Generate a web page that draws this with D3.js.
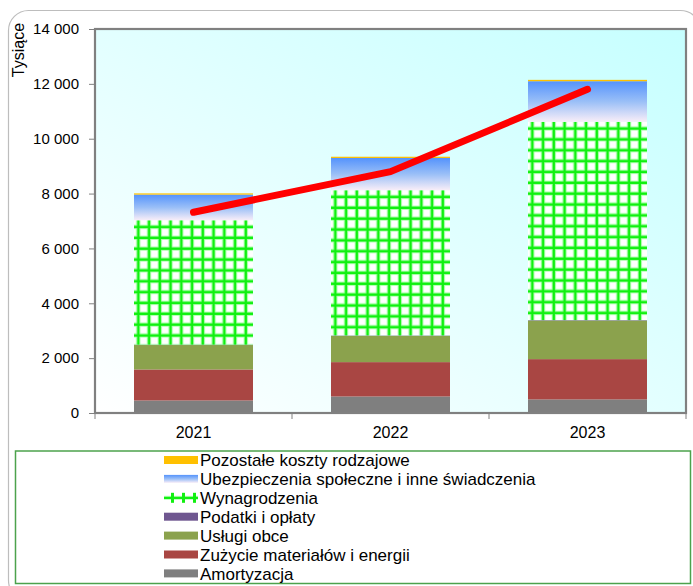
<!DOCTYPE html>
<html>
<head>
<meta charset="utf-8">
<script src="https://cdn.jsdelivr.net/npm/d3@7/dist/d3.min.js"></script>
<style>
  html, body { margin: 0; padding: 0; background: #ffffff; }
  svg { display: block; }
  text { font-family: "Liberation Sans", Arial, sans-serif; fill: #000; }
</style>
</head>
<body>
<svg id="chart" width="693" height="586"></svg>
<script>
// ---- data ----
const years = ["2021", "2022", "2023"];
const amortyzacja   = [456, 602, 493];
const zuzycie       = [1132, 1253, 1471];
const uslugi        = [890, 960, 1410];
const podatki       = [12, 14, 14];
const wynagrodzenia = [4537, 5293, 7228];
const ubezpieczenia = [935, 1176, 1480];
const pozostale     = [45, 45, 50];
const lineValues    = [7320, 8800, 11800];
const yTicks = [0, 2000, 4000, 6000, 8000, 10000, 12000, 14000];

const seriesNames = [
  "Amortyzacja",
  "Zużycie materiałów i energii",
  "Usługi obce",
  "Podatki i opłaty",
  "Wynagrodzenia",
  "Ubezpieczenia społeczne i inne świadczenia",
  "Pozostałe koszty rodzajowe"
];
const seriesValues = [amortyzacja, zuzycie, uslugi, podatki, wynagrodzenia, ubezpieczenia, pozostale];

// ---- layout ----
const svg = d3.select("#chart");
const plot = { left: 95, right: 686, top: 29, bottom: 413 };
const fills = ["#7f7f7f", "#a94643", "#8ba24d", "#6f5790", "url(#grid-ALL)", "url(#blueGrad)", "#ffc000"];

const defs = svg.append("defs");
const bg = defs.append("linearGradient").attr("id", "bgGrad")
  .attr("x1", 0).attr("y1", 1).attr("x2", 1).attr("y2", 0);
bg.append("stop").attr("offset", 0).attr("stop-color", "#ffffff");
bg.append("stop").attr("offset", 1).attr("stop-color", "#c6ffff");

const blue = defs.append("linearGradient").attr("id", "blueGrad")
  .attr("x1", 0).attr("y1", 0).attr("x2", 0).attr("y2", 1);
blue.append("stop").attr("offset", 0).attr("stop-color", "#5593fc");
blue.append("stop").attr("offset", 0.5).attr("stop-color", "#9abff7");
blue.append("stop").attr("offset", 1).attr("stop-color", "#f9eef8");

function makeGridPattern(id, ox, oy) {
  const p = defs.append("pattern").attr("id", id)
    .attr("patternUnits", "userSpaceOnUse")
    .attr("x", ox).attr("y", oy)
    .attr("width", 10.75).attr("height", 10.85);
  p.append("rect").attr("width", 10.75).attr("height", 10.85).attr("fill", "#ffffff");
  p.append("rect").attr("x", 1.6).attr("y", 0).attr("width", 4.4).attr("height", 10.85).attr("fill", "#b4ffb4");
  p.append("rect").attr("x", 0).attr("y", 3.5).attr("width", 10.75).attr("height", 4.4).attr("fill", "#b4ffb4");
  p.append("rect").attr("x", 2.6).attr("y", 0).attr("width", 2.4).attr("height", 10.85).attr("fill", "#10f010");
  p.append("rect").attr("x", 0).attr("y", 4.5).attr("width", 10.75).attr("height", 2.4).attr("fill", "#10f010");
}

// outer chart border
svg.append("rect").attr("x", 8.5).attr("y", 10.5).attr("width", 692).attr("height", 590)
  .attr("rx", 20).attr("fill", "none").attr("stroke", "#bdbdbd").attr("stroke-width", 1.2);

// scales
const x = d3.scaleBand().domain(years).range([plot.left, plot.right]);
const y = d3.scaleLinear().domain([0, 14000]).range([plot.bottom, plot.top]);
const barW = x.bandwidth() * 0.604;

// plot background
svg.append("rect").attr("x", plot.left).attr("y", plot.top)
  .attr("width", plot.right - plot.left).attr("height", plot.bottom - plot.top)
  .attr("fill", "url(#bgGrad)");

// stacked bars
const stackData = years.map((yr, i) => {
  const o = { year: yr };
  seriesNames.forEach((n, k) => o[n] = seriesValues[k][i]);
  return o;
});
const stacked = d3.stack().keys(seriesNames)(stackData);

stacked.forEach((layer, k) => {
  layer.forEach((d, i) => {
    const bx = x(years[i]) + (x.bandwidth() - barW) / 2;
    const top = y(d[1]), bot = y(d[0]);
    let fill = fills[k];
    if (k === 4) {
      const id = "grid-" + i;
      makeGridPattern(id, bx + 0.5, top + 1);
      fill = "url(#" + id + ")";
    }
    svg.append("rect")
      .attr("x", bx).attr("y", top)
      .attr("width", barW).attr("height", Math.max(0, bot - top))
      .attr("fill", fill);
  });
});

// red line
const line = d3.line().x((d, i) => x(years[i]) + x.bandwidth() / 2).y(d => y(d));
svg.append("path").datum(lineValues).attr("d", line)
  .attr("fill", "none").attr("stroke", "#ff0000").attr("stroke-width", 7)
  .attr("stroke-linecap", "round").attr("stroke-linejoin", "round");

// plot border
svg.append("rect").attr("x", plot.left).attr("y", plot.top)
  .attr("width", plot.right - plot.left).attr("height", plot.bottom - plot.top)
  .attr("fill", "none").attr("stroke", "#808080").attr("stroke-width", 2.2);

// y axis
const fmt = d3.formatLocale({ decimal: ",", thousands: " ", grouping: [3], currency: ["", ""] }).format(",d");
const yAxis = svg.append("g").attr("transform", `translate(${plot.left - 1},0)`)
  .call(d3.axisLeft(y).tickValues(yTicks).tickFormat(fmt).tickSize(5).tickPadding(10));
yAxis.select(".domain").remove();
yAxis.selectAll(".tick line").attr("stroke", "#808080");
yAxis.selectAll(".tick text").style("font-size", "15px").style("font-family", "Liberation Sans, Arial, sans-serif");

// x axis
const xAxis = svg.append("g").attr("transform", `translate(0,${plot.bottom})`)
  .call(d3.axisBottom(x).tickSize(0).tickPadding(14));
xAxis.select(".domain").remove();
xAxis.selectAll(".tick text").style("font-size", "16px").style("font-family", "Liberation Sans, Arial, sans-serif");
const bounds = [plot.left].concat(years.map(d => x(d) + x.bandwidth()));
svg.append("g").selectAll("line").data(bounds).join("line")
  .attr("x1", d => d).attr("x2", d => d).attr("y1", plot.bottom).attr("y2", plot.bottom + 6)
  .attr("stroke", "#808080").attr("stroke-width", 1);

// y title
svg.append("text").attr("transform", "translate(24,50) rotate(-90)")
  .attr("text-anchor", "middle").style("font-size", "16px").text("Tysiące");

// legend
svg.append("rect").attr("x", 15.5).attr("y", 451).attr("width", 675).attr("height", 132.5)
  .attr("fill", "#ffffff").attr("stroke", "#4ca24c").attr("stroke-width", 1.5);

const legendOrder = seriesNames.map((n, k) => ({ name: n, k })).reverse();
const lg = svg.append("g");
legendOrder.forEach((d, j) => {
  const cy = 460 + j * 18.9;
  if (d.k === 4) {
    lg.append("rect").attr("x", 164).attr("y", cy - 2).attr("width", 34).attr("height", 4).attr("fill", "#b4ffb4");
    lg.append("rect").attr("x", 164).attr("y", cy - 1).attr("width", 34).attr("height", 2.2).attr("fill", "#10f010");
    [171, 182, 193].forEach(vx => {
      lg.append("rect").attr("x", vx).attr("y", cy - 5).attr("width", 3).attr("height", 10).attr("fill", "#10f010");
    });
  } else {
    lg.append("rect").attr("x", 164).attr("y", cy - 4).attr("width", 34).attr("height", 8)
      .attr("fill", d.k === 5 ? "url(#blueGrad)" : fills[d.k]);
  }
  lg.append("text").attr("x", 200).attr("y", cy).attr("dy", "0.36em")
    .style("font-size", "17px").text(d.name);
});
</script>
</body>
</html>
